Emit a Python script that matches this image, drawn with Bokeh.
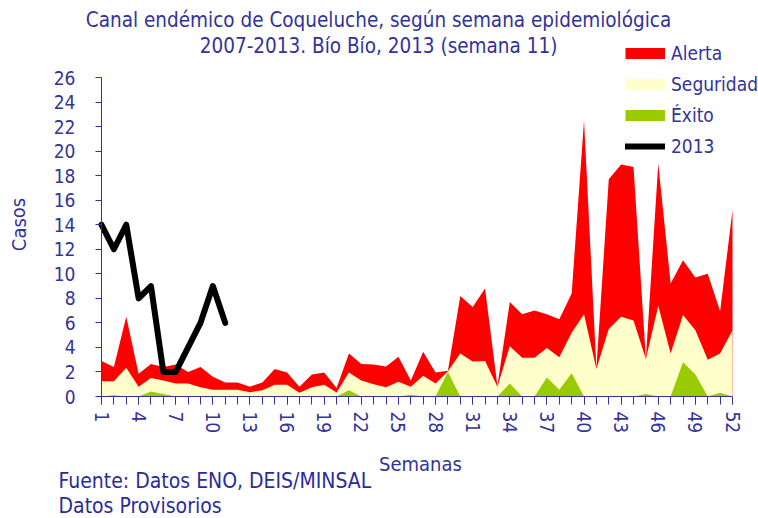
from bokeh.plotting import figure
from bokeh.models import (ColumnDataSource, Range1d, FixedTicker, Legend,
                          LegendItem, Label, LinearAxis)
from bokeh.embed import file_html
from bokeh.resources import INLINE

# ---------------- data ----------------
weeks = list(range(1, 53))
alerta = [2.9, 2.4, 6.5, 1.85, 2.65, 2.4, 2.6, 2.0, 2.4, 1.6,
          1.15, 1.15, 0.8, 1.15, 2.25, 1.95, 0.8, 1.8, 1.95, 0.7,
          3.5, 2.65, 2.6, 2.45, 3.25, 1.3, 3.65, 1.95, 2.1, 8.2,
          7.3, 8.8, 0.85, 7.7, 6.7, 7.0, 6.7, 6.3, 8.4, 22.5,
          2.3, 17.7, 18.9, 18.7, 3.1, 19.0, 9.2, 11.1, 9.7, 10.0,
          6.95, 15.2]
seguridad = [1.25, 1.25, 2.35, 0.8, 1.5, 1.3, 1.05, 1.05, 0.75, 0.55,
             0.55, 0.55, 0.35, 0.5, 0.95, 0.95, 0.3, 0.75, 0.95, 0.33,
             1.95, 1.3, 1.0, 0.75, 1.2, 0.8, 1.7, 1.05, 2.05, 3.5,
             2.85, 2.9, 0.8, 4.1, 3.15, 3.15, 3.95, 3.2, 5.2, 6.7,
             2.25, 5.5, 6.5, 6.2, 3.05, 7.4, 3.5, 6.65, 5.4, 3.0,
             3.5, 5.4]
exito = [0, 0.1, 0, 0, 0.4, 0.2, 0, 0, 0, 0,
         0, 0, 0, 0, 0, 0, 0, 0, 0, 0,
         0.5, 0, 0, 0, 0, 0.15, 0, 0, 2.0, 0,
         0, 0, 0, 1.05, 0, 0, 1.55, 0.55, 1.9, 0,
         0, 0, 0, 0, 0.2, 0, 0, 2.8, 1.8, 0,
         0.3, 0]
weeks_2013 = list(range(1, 12))
casos_2013 = [14, 12, 14, 8, 9, 2, 2, 4, 6, 9, 6]
x_tick_labels = list(range(1, 53, 3))
y_tick_labels = list(range(0, 27, 2))

# ---------------- layout (pixels of the picture) ----------------
W, H = 758, 518
PX_X0, PX_X1 = 101, 732      # week 1 .. week 52
PX_Y0, PX_Y1 = 396, 77       # 0 .. 26 casos
sx = (PX_X1 - PX_X0) / (weeks[-1] - weeks[0])
sy = (PX_Y0 - PX_Y1) / (y_tick_labels[-1] - y_tick_labels[0])


def fx(px):
    return weeks[0] + (px - PX_X0) / sx


def fy(py):
    return (PX_Y0 - py) / sy


FONT = "DejaVu Sans Condensed"
TXT = "#333399"
FS = "19px"

src = ColumnDataSource(dict(week=weeks, alerta=alerta,
                            seguridad=seguridad, exito=exito))
src13 = ColumnDataSource(dict(week=weeks_2013, casos=casos_2013))

p = figure(width=W, height=H, x_range=Range1d(fx(0), fx(W)), y_range=Range1d(fy(H), fy(0)),
           output_backend="svg", toolbar_location=None,
           x_axis_location=None, y_axis_location=None,
           min_border_left=0, min_border_right=0,
           min_border_top=0, min_border_bottom=0)
p.outline_line_color = None
p.grid.visible = False
p.background_fill_color = "white"
p.border_fill_color = "white"

p.varea(x="week", y1=0, y2="alerta", source=src, fill_color="#FF0000")
p.varea(x="week", y1=0, y2="seguridad", source=src, fill_color="#FFFFCC")
p.varea(x="week", y1=0, y2="exito", source=src, fill_color="#99CC00")
r13 = p.line(x="week", y="casos", source=src13, line_color="black",
             line_width=6, line_join="round", line_cap="round")

# legend swatches (a single undefined point: nothing drawn in the plot)
sw_src = ColumnDataSource(dict(x=[weeks[0]], y=[float("nan")]))
sw_a = p.line(x="x", y="y", source=sw_src, line_color="#FF0000", line_width=11, line_cap="butt")
sw_s = p.line(x="x", y="y", source=sw_src, line_color="#FFFFCC", line_width=11, line_cap="butt")
sw_e = p.line(x="x", y="y", source=sw_src, line_color="#99CC00", line_width=11, line_cap="butt")

# axes drawn at fixed data locations
xa = LinearAxis(fixed_location=0, bounds=(weeks[0], weeks[-1]),
                ticker=FixedTicker(ticks=x_tick_labels, minor_ticks=weeks))
xa.major_label_orientation = "vertical"
ya = LinearAxis(fixed_location=weeks[0], bounds=(y_tick_labels[0], y_tick_labels[-1]),
                ticker=FixedTicker(ticks=y_tick_labels, minor_ticks=[]))
for ax in (xa, ya):
    ax.axis_line_color = TXT
    ax.major_tick_line_color = TXT
    ax.minor_tick_line_color = TXT
    ax.major_label_text_color = TXT
    ax.major_label_text_font = FONT
    ax.major_label_text_font_size = FS
    ax.major_tick_in = 0
    ax.minor_tick_in = 0
xa.major_tick_out = 8
xa.minor_tick_out = 8
xa.major_label_standoff = 7
ya.major_tick_out = 6
ya.major_label_standoff = 20
p.add_layout(xa, "below")
p.add_layout(ya, "left")

legend = Legend(items=[LegendItem(label="Alerta", renderers=[sw_a]),
                       LegendItem(label="Seguridad", renderers=[sw_s]),
                       LegendItem(label="Éxito", renderers=[sw_e]),
                       LegendItem(label="2013", renderers=[r13])],
                location=(625, H - 157), orientation="vertical",
                glyph_width=40, glyph_height=22, label_height=22,
                spacing=9, padding=0, margin=0, label_standoff=6,
                border_line_color=None, background_fill_alpha=0,
                label_text_font=FONT, label_text_font_size=FS,
                label_text_color=TXT)
p.add_layout(legend)


def lab(px, py, text, align="left", angle=0, color=TXT, size=FS):
    p.add_layout(Label(x=fx(px), y=fy(py), text=text, text_align=align,
                       text_baseline="middle", angle=angle, text_font=FONT,
                       text_font_size=size, text_color=color))


lab(381, 19, "Canal  endémico de Coqueluche, según semana epidemiológica", "center", size="20.5px")
lab(381, 45, "2007-2013.  Bío Bío, 2013 (semana 11)", "center", size="20.5px")
lab(420, 463, "Semanas", "center", size="20px")
lab(18, 224, "Casos", "center", angle=1.5708, size="20px")
lab(58, 480, "Fuente: Datos ENO, DEIS/MINSAL", "left", color="#2B2B9B", size="21px")
lab(58, 505, "Datos Provisorios", "left", color="#2B2B9B", size="21px")

open("out.html", "w").write(file_html(p, INLINE))
